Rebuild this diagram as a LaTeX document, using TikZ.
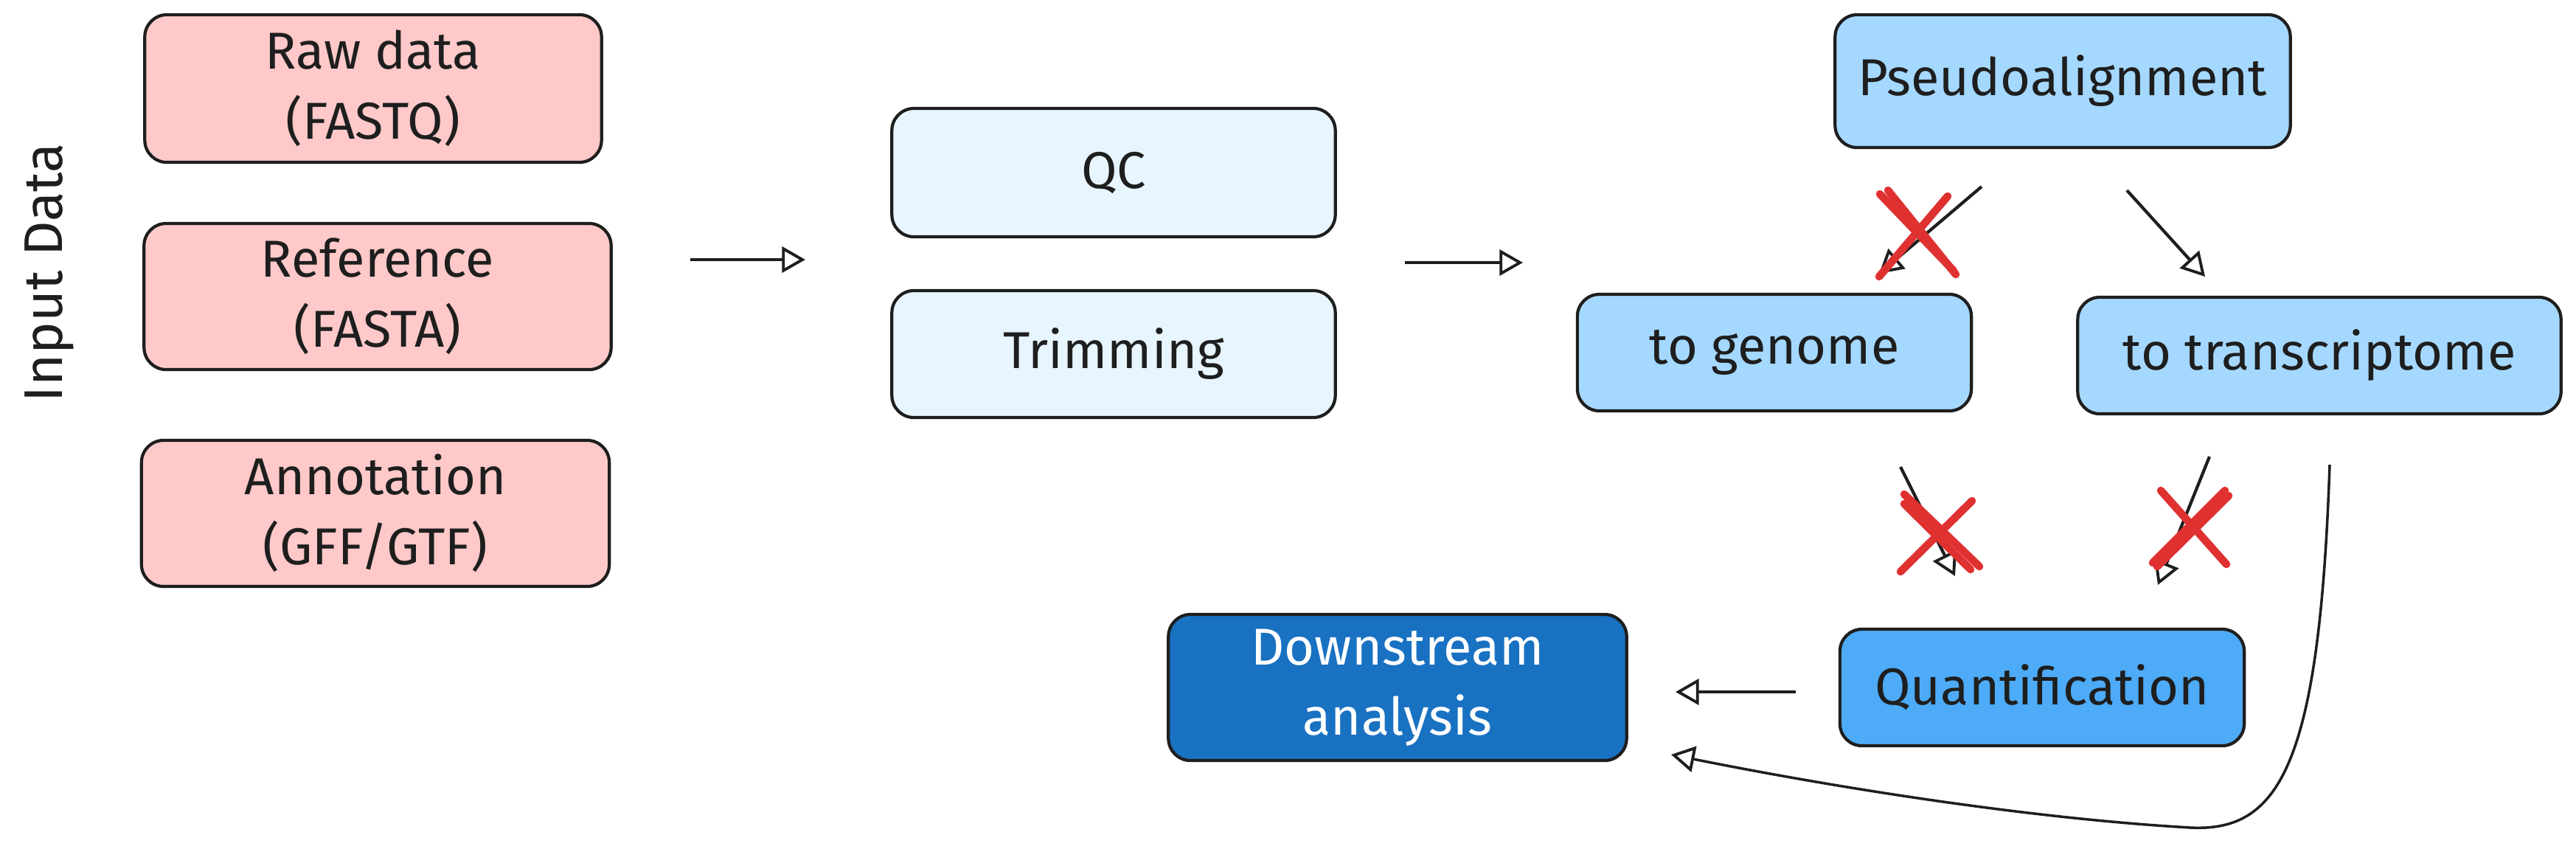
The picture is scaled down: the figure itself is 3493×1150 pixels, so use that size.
\documentclass[tikz,border=0pt]{standalone}
\usepackage{fontspec}
\setmainfont{Fira Sans}
\usetikzlibrary{arrows.meta}
\definecolor{ink}{HTML}{1E1E1E}
\definecolor{inpink}{HTML}{FFC9C9}
\definecolor{qcblue}{HTML}{E7F5FF}
\definecolor{alblue}{HTML}{A5D8FF}
\definecolor{qtblue}{HTML}{4DABF7}
\definecolor{dsblue}{HTML}{1971C2}
\definecolor{crossred}{HTML}{E03131}
\tikzset{>/.tip={Triangle[open, length=9pt, width=10pt, line width=1.1pt]},
  box/.style={draw=ink, line width=1.2pt, rounded corners=0.3cm, align=center,
    inner sep=0pt, font=\fontsize{20}{27}\selectfont, text=ink},
  flow/.style={->, draw=ink, line width=1.2pt},
  cross/.style={draw=crossred, line width=3pt, line cap=round}}

\begin{document}
\begin{tikzpicture}[x=0.01cm, y=-0.01cm]
\useasboundingbox (0,0) rectangle (3493,1150);
\node[rotate=90, font=\fontsize{21}{24}\selectfont, text=ink] (inputlabel) at (67,370) {Input Data};
\node[box, fill=inpink, minimum width=6.19cm, minimum height=2cm] (raw) at (506,120) {Raw data\\(FASTQ)};
\node[box, fill=inpink, minimum width=6.33cm, minimum height=1.98cm] (ref) at (512,402) {Reference\\(FASTA)};
\node[box, fill=inpink, minimum width=6.34cm, minimum height=1.98cm] (annot) at (509,696) {Annotation\\(GFF/GTF)};
\node[box, fill=qcblue, minimum width=6.01cm, minimum height=1.74cm] (qc) at (1510,234) {QC};
\node[box, fill=qcblue, minimum width=6.01cm, minimum height=1.72cm] (trim) at (1510,480) {Trimming};
\node[box, fill=alblue, minimum width=6.17cm, minimum height=1.8cm] (pseudo) at (2797,110) {Pseudoalignment};
\node[box, fill=alblue, minimum width=5.34cm, minimum height=1.58cm] (genome) at (2406,478) {to genome};
\node[box, fill=alblue, minimum width=6.55cm, minimum height=1.58cm] (transcr) at (3145,482) {to transcriptome};
\node[box, fill=qtblue, minimum width=5.48cm, minimum height=1.58cm] (quant) at (2769,932) {Quantification};
\node[box, fill=dsblue, text=white, minimum width=6.21cm, minimum height=1.98cm] (down) at (1895,932) {Downstream\\analysis};
\coordinate (in1) at (936,352);
\coordinate (in2) at (1092,352);
\coordinate (qc1) at (1905,356);
\coordinate (qc2) at (2065,356);
\coordinate (ps1) at (2687,253);
\coordinate (ps2) at (2548,371);
\coordinate (ps3) at (2884,258);
\coordinate (ps4) at (2990,375);
\coordinate (ge1) at (2577,633);
\coordinate (ge2) at (2651,781);
\coordinate (tr1) at (2996,619);
\coordinate (tr2) at (2926,793);
\coordinate (qu1) at (2435,938);
\coordinate (qu2) at (2272,938);
\coordinate (cv1) at (3159,630);
\coordinate (cv2) at (2266,1023);
\draw[flow] (in1) to (in2);
\draw[flow] (qc1) to (qc2);
\draw[flow] (ps1) to (ps2);
\draw[flow] (ps3) to (ps4);
\draw[flow] (ge1) to (ge2);
\draw[flow] (tr1) to (tr2);
\draw[flow] (qu1) to (qu2);
\draw[->, draw=ink, line width=1pt] (cv1) .. controls (3145,1040) and (3090,1128) .. (2970,1122) .. controls (2760,1110) and (2500,1070) .. (cv2);
\draw[cross] (2549,263) to (2649,367);
\draw[cross] (2560,258) to (2652,372);
\draw[cross] (2641,266) to (2548,375);
\draw[cross] (2582,670) to (2684,768);
\draw[cross] (2674,679) to (2577,775);
\draw[cross] (2582,683) to (2672,772);
\draw[cross] (2930,665) to (3019,765);
\draw[cross] (3017,665) to (2919,763);
\draw[cross] (3022,672) to (2925,768);
\end{tikzpicture}
\end{document}
